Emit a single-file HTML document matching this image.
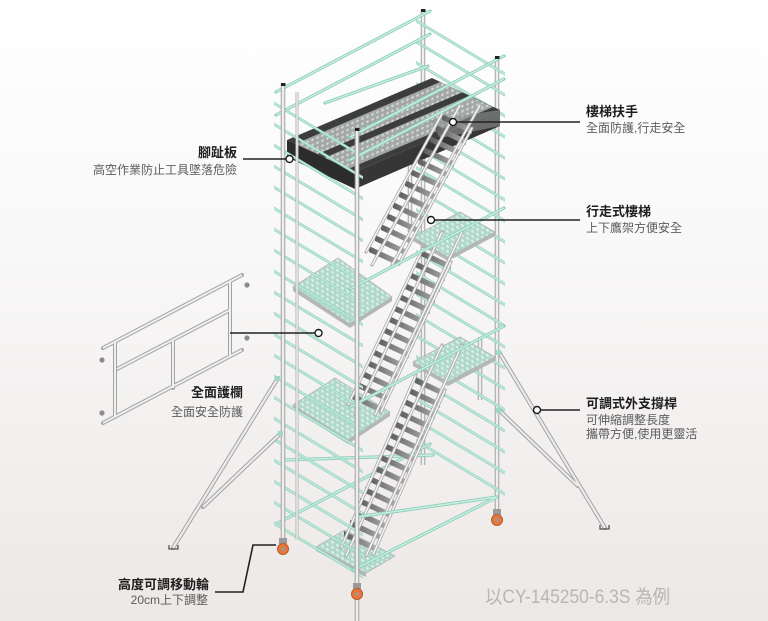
<!DOCTYPE html>
<html><head><meta charset="utf-8">
<style>
html,body{margin:0;padding:0;width:768px;height:621px;overflow:hidden;background:#f5f3f2;}
svg{display:block}
.t{font-family:"Liberation Sans","Noto Sans CJK TC",sans-serif;font-weight:bold;font-size:13px;fill:#1e1e1e}
.s{font-family:"Liberation Sans","Noto Sans CJK TC",sans-serif;font-size:12px;fill:#5c5c5c}
</style></head><body>
<svg width="768" height="621" viewBox="0 0 768 621" xmlns="http://www.w3.org/2000/svg">
<defs>
<linearGradient id="bg" x1="0" y1="0" x2="0" y2="1">
<stop offset="0" stop-color="#ffffff"/><stop offset="0.4" stop-color="#f9f8f8"/><stop offset="1" stop-color="#ece8e6"/>
</linearGradient>
<pattern id="rung" patternUnits="userSpaceOnUse" width="30" height="21" patternTransform="skewY(31)">
<rect x="0" y="0" width="30" height="3.2" fill="#8ccfba"/>
<rect x="0" y="0.8" width="30" height="1.4" fill="#cbeee2"/>
</pattern>
<pattern id="perfG" patternUnits="userSpaceOnUse" width="5" height="5" patternTransform="skewY(31)">
<rect width="5" height="5" fill="#b1d9cb"/><circle cx="2.5" cy="2.5" r="1.3" fill="#e2f3ed"/>
</pattern>
<pattern id="perfS" patternUnits="userSpaceOnUse" width="5" height="5" patternTransform="skewY(-23)">
<rect width="5" height="5" fill="#a3a7a5"/><circle cx="2.5" cy="2.5" r="1.3" fill="#d6d9d8"/>
</pattern>
<linearGradient id="stg" x1="0" y1="0" x2="1" y2="0">
<stop offset="0" stop-color="#5e5e5e"/><stop offset="1" stop-color="#a6a6a6"/>
</linearGradient>
<polygon id="st" points="-17,-8 13,6 13,12 -17,-2" fill="url(#stg)"/>

<g id="gp">
<line x1="103" y1="348" x2="242" y2="275"/>
<line x1="117" y1="369" x2="230" y2="310"/>
<line x1="103" y1="423" x2="242" y2="350"/>
<line x1="115" y1="342" x2="115" y2="417"/>
<line x1="173" y1="340" x2="173" y2="388"/>
<line x1="230" y1="282" x2="230" y2="356"/>
</g>
<g id="og">
<line x1="278" y1="378" x2="173" y2="548"/>
<line x1="281" y1="433" x2="203" y2="507"/>
<line x1="499" y1="352" x2="605" y2="528"/>
<line x1="499" y1="410" x2="578" y2="486"/>
</g>
<g id="pB">
<line x1="423" y1="10" x2="423" y2="465"/>
<line x1="497" y1="57" x2="497" y2="515"/>
<line x1="410" y1="140" x2="410" y2="232"/>
<line x1="480" y1="337" x2="480" y2="400"/>
</g>
<g id="pF">
<line x1="283" y1="84" x2="283" y2="542"/>
<line x1="357" y1="129" x2="357" y2="621"/>
</g>
<g id="grB">
<line x1="276" y1="92" x2="430" y2="11"/>
<line x1="276" y1="115" x2="430" y2="34"/>
<line x1="276" y1="524" x2="430" y2="444"/>
<line x1="285" y1="460" x2="433" y2="455"/>
</g>
<g id="grF">
<line x1="350" y1="137" x2="504" y2="56"/>
<line x1="350" y1="160" x2="504" y2="79"/>
<line x1="325" y1="103" x2="428" y2="66"/>
<line x1="350" y1="289" x2="504" y2="208"/>
<line x1="350" y1="407" x2="504" y2="326"/>
<line x1="353" y1="570" x2="497" y2="497"/>
<line x1="357" y1="517" x2="497" y2="497"/>
</g>
<g id="sr">
<line x1="460" y1="105" x2="372" y2="265"/>
<line x1="480" y1="105" x2="392" y2="265"/>
<line x1="442" y1="232" x2="355" y2="415"/>
<line x1="462" y1="232" x2="375" y2="415"/>
<line x1="442" y1="345" x2="346" y2="556"/>
<line x1="462" y1="345" x2="366" y2="556"/>
<line x1="443" y1="112" x2="366" y2="252"/>
<line x1="472" y1="128" x2="399" y2="264"/>
<line x1="423" y1="248" x2="348" y2="405"/>
<line x1="451" y1="262" x2="381" y2="412"/>
<line x1="416" y1="375" x2="341" y2="548"/>
<line x1="445" y1="390" x2="373" y2="555"/>
</g>
</defs>

<rect width="768" height="621" fill="url(#bg)"/>

<!-- guardrail panel -->
<use href="#gp" stroke="#a3a3a3" stroke-width="4" stroke-linecap="round"/>
<use href="#gp" stroke="#efefef" stroke-width="2"/>
<g fill="#8c8c8c">
<circle cx="102" cy="360" r="2.6"/><circle cx="102" cy="413" r="2.6"/>
<circle cx="247" cy="285" r="2.6"/><circle cx="247" cy="338" r="2.6"/>
</g>

<!-- back structure -->
<use href="#pB" stroke="#a9a9a9" stroke-width="4.6"/>
<use href="#pB" stroke="#eeeeee" stroke-width="2.4"/>
<polygon points="416,12 505,66 505,497 416,443" fill="url(#rung)"/>
<use href="#grB" stroke="#8ccfba" stroke-width="3.2" stroke-linecap="round"/>
<use href="#grB" stroke="#cbeee2" stroke-width="1.4"/>

<!-- top deck -->
<polygon points="287,140 432,78 500,110 355,172" fill="#3d3d3d"/>
<polygon points="295,144 440,82 463,92 318,154" fill="url(#perfS)"/>
<polygon points="324,158 469,96 493,107 348,169" fill="url(#perfS)"/>
<polygon points="287,140 355,172 355,189 287,157" fill="#2c2c2c"/>
<polygon points="355,172 500,110 500,126 355,189" fill="#363636"/>
<polygon points="430,120 500,110 500,126 440,138" fill="#8e9290" opacity="0.6"/>

<!-- landings -->
<g stroke="#b0b5b3" stroke-width="0.8">
<polygon points="293,287 338,258 392,297 350,324" fill="url(#perfG)"/>
<polygon points="293,405 335,378 390,412 348,440" fill="url(#perfG)"/>
<polygon points="413,237 460,212 495,232 448,257" fill="url(#perfG)"/>
<polygon points="413,362 460,337 495,357 448,382" fill="url(#perfG)"/>
<polygon points="316,547 345,530 395,556 366,573" fill="url(#perfG)"/>
</g>
<g fill="#b3b8b6">
<polygon points="293,287 350,324 350,328 293,291"/>
<polygon points="350,324 392,297 392,301 350,328"/>
<polygon points="293,405 348,440 348,444 293,409"/>
<polygon points="348,440 390,412 390,416 348,444"/>
<polygon points="413,237 448,257 448,261 413,241"/>
<polygon points="448,257 495,232 495,236 448,261"/>
<polygon points="413,362 448,382 448,386 413,366"/>
<polygon points="448,382 495,357 495,361 448,386"/>
<polygon points="316,547 366,573 366,577 316,551"/>
</g>

<!-- stair flights -->
<use href="#st" x="459" y="122"/><use href="#st" x="453" y="133"/><use href="#st" x="447" y="144"/>
<use href="#st" x="441" y="155"/><use href="#st" x="435" y="166"/><use href="#st" x="428" y="177"/>
<use href="#st" x="422" y="188"/><use href="#st" x="416" y="199"/><use href="#st" x="410" y="210"/>
<use href="#st" x="404" y="221"/><use href="#st" x="398" y="232"/><use href="#st" x="392" y="243"/>
<use href="#st" x="386" y="254"/>
<use href="#st" x="438" y="258"/><use href="#st" x="432" y="269"/><use href="#st" x="427" y="280"/>
<use href="#st" x="422" y="291"/><use href="#st" x="417" y="302"/><use href="#st" x="411" y="313"/>
<use href="#st" x="406" y="324"/><use href="#st" x="401" y="335"/><use href="#st" x="396" y="346"/>
<use href="#st" x="390" y="357"/><use href="#st" x="385" y="368"/><use href="#st" x="380" y="379"/>
<use href="#st" x="375" y="390"/><use href="#st" x="369" y="401"/>
<use href="#st" x="432" y="385"/><use href="#st" x="427" y="396"/><use href="#st" x="422" y="407"/>
<use href="#st" x="417" y="418"/><use href="#st" x="412" y="429"/><use href="#st" x="407" y="440"/>
<use href="#st" x="402" y="451"/><use href="#st" x="397" y="462"/><use href="#st" x="392" y="473"/>
<use href="#st" x="387" y="484"/><use href="#st" x="382" y="495"/><use href="#st" x="377" y="506"/>
<use href="#st" x="372" y="517"/><use href="#st" x="367" y="528"/><use href="#st" x="361" y="539"/>
<use href="#sr" stroke="#acacac" stroke-width="3.2" stroke-linecap="round"/>
<use href="#sr" stroke="#f6f6f6" stroke-width="1.5"/>

<!-- front structure -->
<polygon points="274,84 363,137.5 363,583 274,530" fill="url(#rung)"/>
<line x1="297" y1="92" x2="297" y2="540" stroke="#b3b3b3" stroke-width="3"/>
<line x1="297" y1="92" x2="297" y2="540" stroke="#ededed" stroke-width="1.4"/>
<use href="#grF" stroke="#8ccfba" stroke-width="3.2" stroke-linecap="round"/>
<use href="#grF" stroke="#cbeee2" stroke-width="1.4"/>
<use href="#pF" stroke="#a9a9a9" stroke-width="4.6"/>
<use href="#pF" stroke="#eeeeee" stroke-width="2.4"/>
<g fill="#222">
<rect x="281" y="83" width="4.5" height="3"/><rect x="355" y="128" width="4.5" height="3"/>
<rect x="495" y="56" width="4.5" height="3"/><rect x="421" y="9" width="4.5" height="3"/>
</g>

<!-- outriggers -->
<use href="#og" stroke="#a3a3a3" stroke-width="4.2" stroke-linecap="round"/>
<use href="#og" stroke="#ececec" stroke-width="2.2"/>
<g fill="#9fd9c6"><rect x="275" y="376" width="5" height="5"/><rect x="278" y="431" width="5" height="5"/><rect x="496" y="350" width="5" height="5"/><rect x="496" y="408" width="5" height="5"/></g>
<path d="M169,545 v4 h9 v-4 M600,525 v4 h9 v-4" stroke="#555" stroke-width="1.3" fill="none"/>

<!-- wheels -->
<g>
<rect x="279" y="538" width="8" height="6" fill="#9a9a9a"/>
<circle cx="283" cy="549" r="5.5" fill="#e7763d" stroke="#b95a2a" stroke-width="1"/>
<circle cx="283" cy="549" r="1.8" fill="#9a9a9a"/>
<rect x="353" y="583" width="8" height="6" fill="#9a9a9a"/>
<circle cx="357" cy="594" r="5.5" fill="#e7763d" stroke="#b95a2a" stroke-width="1"/>
<circle cx="357" cy="594" r="1.8" fill="#9a9a9a"/>
<rect x="493" y="509" width="8" height="6" fill="#9a9a9a"/>
<circle cx="497" cy="520" r="5.5" fill="#e7763d" stroke="#b95a2a" stroke-width="1"/>
<circle cx="497" cy="520" r="1.8" fill="#9a9a9a"/>
</g>

<!-- leader lines -->
<g stroke="#222" stroke-width="1.6" fill="none">
<line x1="243" y1="159" x2="286" y2="159"/>
<line x1="456.5" y1="122" x2="580" y2="122"/>
<line x1="434.5" y1="220" x2="580" y2="220"/>
<line x1="540.5" y1="410" x2="580" y2="410"/>
<line x1="230" y1="333" x2="315" y2="333"/>
<polyline points="215,592 243,592 253,545 276,545"/>
</g>
<g stroke="#1a1a1a" stroke-width="1.4" fill="#ffffff">
<circle cx="289.5" cy="159" r="3.5"/>
<circle cx="453" cy="122" r="3.5"/>
<circle cx="431" cy="220" r="3.5"/>
<circle cx="537" cy="410" r="3.5"/>
<circle cx="318.5" cy="333" r="3.5"/>
</g>

<!-- labels -->
<text class="t" x="237" y="157" text-anchor="end">腳趾板</text>
<text class="s" x="237" y="174" text-anchor="end">高空作業防止工具墜落危險</text>
<text class="t" x="586" y="116">樓梯扶手</text>
<text class="s" x="586" y="132">全面防護,行走安全</text>
<text class="t" x="586" y="216">行走式樓梯</text>
<text class="s" x="586" y="232">上下鷹架方便安全</text>
<text class="t" x="586" y="408">可調式外支撐桿</text>
<text class="s" x="586" y="424">可伸縮調整長度</text>
<text class="s" x="586" y="438">攜帶方便,使用更靈活</text>
<text class="t" x="243" y="397" text-anchor="end">全面護欄</text>
<text class="s" x="243" y="416" text-anchor="end">全面安全防護</text>
<text class="t" x="209" y="589" text-anchor="end">高度可調移動輪</text>
<text class="s" x="208" y="604" text-anchor="end">20cm上下調整</text>
<text x="485" y="603" font-family="Liberation Sans, Noto Sans CJK TC, sans-serif" font-size="19" fill="#b9b5b3" textLength="185" lengthAdjust="spacingAndGlyphs">以CY-145250-6.3S 為例</text>
</svg>
</body></html>
